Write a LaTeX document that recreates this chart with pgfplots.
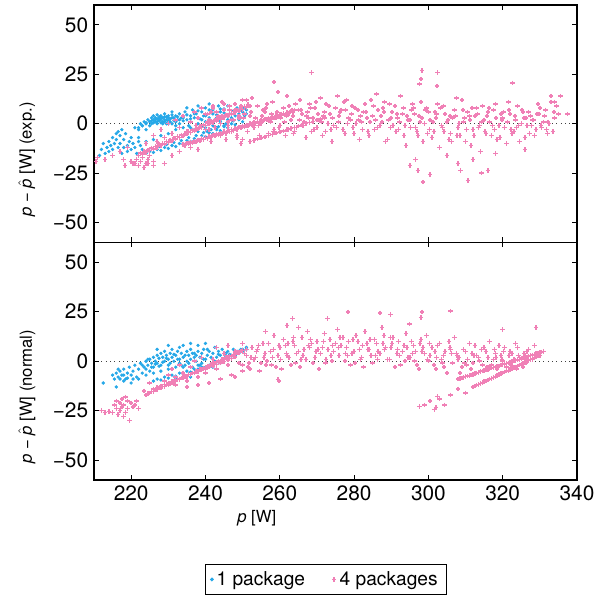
\documentclass[border=0pt]{standalone}
\usepackage{fontspec}
\setmainfont{TeX Gyre Heros}
\usepackage{pgfplots}
\usepackage{pgfplotstable}
\pgfplotsset{compat=1.18}
\definecolor{cblue}{RGB}{38,168,232}
\definecolor{cpink}{RGB}{240,128,182}
\newcommand{\fs}{\fontsize{11.5}{13.5}\selectfont}
\newcommand{\ft}{\fontsize{12.5}{14.5}\selectfont}

% ---------- top panel (exp.) ----------
\pgfplotstableread[row sep=\\]{x y\\
211.5 -16\\ 212 -13\\ 212.5 -10\\ 213 -15\\ 213.5 -12\\ 214 -9\\ 214 -14\\ 214.5 -11\\ 215 -7\\ 215 -13\\ 215.5 -10\\ 216 -5\\ 216 -8\\ 216.5 -12\\ 216.5 -4\\ 217 -6\\ 217 -10\\ 217.5 -3\\ 217.5 -15\\ 218 -8\\ 218 -12\\ 218.5 -5\\ 219 -11\\ 219 -14\\ 219.5 -9\\ 220 -7\\ 220 -13\\ 220.5 -10\\ 221 -12\\ 221.5 -15\\ 222 -9\\ 222.5 -11\\ 223 -13\\ 221 -2\\ 222 -3\\ 223 -1\\ 224 0\\
222 -2\\ 222.5 0\\ 223 -1\\ 223.5 1\\ 224 -3\\ 224 0.5\\ 224.5 2\\ 225 1\\ 225 -1\\ 225.5 3\\ 225.5 0\\ 226 2\\ 226 4\\ 226.5 1\\ 226.5 3\\ 227 0\\ 227 2.5\\ 227 4.5\\ 227.5 1.5\\ 227.5 3.5\\ 228 0.5\\ 228 2\\ 228 4\\ 228.5 3\\ 228.5 1\\ 229 2\\ 229 5\\ 229.5 0\\ 229.5 3.5\\ 230 1.5\\ 230 4\\ 230.5 2.5\\ 231 0\\ 231 3\\ 231 6\\ 231.5 1.5\\ 232 4\\ 232 -1\\ 232.5 2\\ 233 5\\ 233 0\\ 233.5 3\\ 234 -2\\ 234 1.5\\ 234.5 6\\ 235 2\\ 235 8\\ 235.5 -1\\ 236 4\\ 236 1\\ 236.5 7\\ 237 3\\ 237 -3\\ 237.5 5\\ 238 0\\ 238 9\\ 238.5 2.5\\ 239 6\\ 239 -1\\ 239.5 4\\ 240 1\\ 240 8\\ 240.5 -4\\ 241 3\\ 241 10\\ 241.5 5.5\\ 242 0\\ 242 7\\ 242.5 2\\ 243 4.5\\ 243 -2\\ 243.5 9\\ 244 1\\ 244 6\\ 244.5 3\\ 245 7.5\\ 245 -1\\ 245.5 4\\ 246 2\\ 246 9\\ 246.5 5\\ 247 3\\ 247.5 6.5\\ 248 4\\ 248.5 8\\ 249 5\\ 249.5 7\\ 250 6\\ 250.5 8\\ 251 7\\
225.5 1.5\\ 226 0.5\\ 226.5 2\\ 227 1\\ 227.5 2.5\\ 228 3\\ 228.5 0\\ 229 1\\ 229 3.5\\ 229.5 2\\ 230 0\\ 230 3\\ 230.5 1\\ 231 4.5\\ 231.5 3\\ 232 1\\ 232.5 3.5\\ 233 2\\ 234 3\\ 235 4.5\\ 236 2.5\\ 237 5\\ 238 6.5\\ 239 2\\ 240 4\\ 241 7\\ 242 5\\ 243 3\\ 244 7.5\\ 245 5.5\\
224 -15\\ 225 -14\\ 225.5 -12.5\\ 226 -14.5\\ 227 -13\\ 227.5 -11.5\\ 228 -13.5\\ 229 -12\\ 229.5 -10.5\\ 230 -12.5\\ 231 -11\\ 231.5 -9.5\\ 232 -11.5\\ 233 -10\\ 233.5 -8.5\\ 234 -10\\ 235 -8.5\\ 235.5 -7\\ 236 -9\\ 237 -7.5\\ 237.5 -6\\ 238 -8\\ 239 -6\\ 239.5 -4.5\\ 240 -6.5\\ 241 -4.5\\ 241.5 -3\\ 242 -5\\ 243 -3\\ 243.5 -1.5\\ 244 -3.5\\ 245 -1.5\\ 245.5 0\\ 246 -2\\ 247 0\\ 247.5 1.5\\ 248 -0.5\\ 249 2\\ 249.5 3\\ 250 1\\ 250.5 4\\ 251 5\\
230 -5\\ 232 -3\\ 234 -6\\ 236 -2\\ 238 -4\\ 240 -2\\ 242 -1\\ 244 2\\ 226 -8\\ 228 -6\\ 222 -7\\ 224 -9\\
}\tb

\pgfplotstableread[row sep=\\]{x y\\
210.5 -19\\ 211 -17\\ 213 -18\\ 215 -16\\ 217 -14\\ 218 -18\\ 218.4 -21\\ 219 -12\\ 220 -19\\ 220.5 -20\\ 221 -20\\ 221.5 -18\\ 222 -21\\ 222.5 -19\\ 223 -17\\ 223.5 -22\\ 224 -20\\ 224.5 -18\\ 225 -16\\ 226 -21\\ 229 -20\\ 224.6 -20\\
222 -16\\ 223 -15.3\\ 224 -14.5\\ 225 -13.6\\ 226 -12.8\\ 227 -11.9\\ 228 -11.1\\ 229 -10.3\\ 230 -9.4\\ 231 -8.6\\ 232 -7.8\\ 233 -6.9\\ 234 -6.1\\ 235 -5.2\\ 236 -4.4\\ 237 -3.6\\ 238 -2.7\\ 239 -1.9\\ 240 -1.0\\ 241 -0.2\\ 242 0.6\\ 243 1.5\\ 244 2.3\\ 245 3.2\\ 246 4.0\\ 247 4.8\\ 248 5.7\\ 249 6.5\\ 250 7.3\\ 251 8.2\\ 252 9\\
222.5 -14.8\\ 223.5 -13.9\\ 224.5 -13.3\\ 225.5 -12.2\\ 226.5 -11.6\\ 227.5 -10.6\\ 228.5 -9.9\\ 229.5 -8.9\\ 230.5 -8.2\\ 231.5 -7.3\\ 232.5 -6.5\\ 233.5 -5.6\\ 234.5 -4.9\\ 235.5 -3.9\\ 236.5 -3.2\\ 237.5 -2.3\\ 238.5 -1.5\\ 239.5 -0.6\\ 240.5 0.2\\ 241.5 1.1\\ 242.5 1.9\\ 243.5 2.8\\ 244.5 3.6\\ 245.5 4.5\\ 246.5 5.3\\ 247.5 6.2\\ 248.5 7.0\\ 249.5 7.9\\ 250.5 8.6\\ 251.5 9.6\\
234 -10.4\\ 235 -9.8\\ 236 -9.3\\ 237 -8.7\\ 238 -8.1\\ 239 -7.5\\ 240 -6.9\\ 241 -6.4\\ 242 -5.8\\ 243 -5.2\\ 244 -4.6\\ 245 -4.0\\ 246 -3.5\\ 247 -2.9\\ 248 -2.3\\ 249 -1.7\\ 250 -1.1\\ 251 -0.6\\ 252 0\\ 253 0.6\\ 254 1.2\\ 255 1.8\\ 256 2.4\\ 257 2.9\\ 258 3.5\\ 259 4.1\\ 260 4.7\\ 261 5.3\\ 262 5.8\\ 263 6.4\\ 264 7.0\\
234.5 -10.9\\ 235.5 -10.3\\ 236.5 -9.8\\ 237.5 -9.2\\ 238.5 -8.6\\ 239.5 -8.0\\ 240.5 -7.5\\ 241.5 -6.9\\ 242.5 -6.3\\ 243.5 -5.7\\ 244.5 -5.1\\ 245.5 -4.6\\ 246.5 -4.0\\ 247.5 -3.4\\ 248.5 -2.8\\ 249.5 -2.2\\ 250.5 -1.7\\ 251.5 -1.1\\ 252.5 -0.5\\ 253.5 0.1\\ 254.5 0.7\\ 255.5 1.3\\ 256.5 1.8\\ 257.5 2.4\\ 258.5 3.0\\ 259.5 3.6\\ 260.5 4.2\\ 261.5 4.7\\ 262.5 5.3\\ 263.5 5.9\\
252 -9\\ 253 -8.4\\ 254 -7.8\\ 255 -7.2\\ 256 -6.6\\ 257 -6\\ 258 -5.4\\ 259 -4.8\\ 260 -4.2\\ 261 -3.6\\ 262 -3\\ 263 -2.4\\ 264 -1.8\\ 265 -1.2\\ 266 -0.6\\ 267 0\\ 268 0.6\\ 269 1.2\\ 270 1.8\\ 271 2.4\\ 272 3\\
224 -10\\ 226 -6\\ 227 -9\\ 228 -3\\ 229 -7\\ 230 0\\ 231 -5\\ 232 2\\ 233 -2\\ 234 4\\ 235 -4\\ 236 1\\ 237 6\\ 237.5 -1\\ 238 3\\ 239 8\\ 240 -3\\ 240.5 5\\ 241 2\\ 242 9\\ 242.5 -2\\ 243 6\\ 244 0\\ 244.5 11\\ 245 7\\ 246 -1\\ 246.5 9\\ 247 2\\ 248 10\\ 248.5 -6\\ 249 4\\ 250 12\\ 249.5 -10\\ 245.5 -8\\ 241.5 -9\\ 238 -13\\ 236 -12\\ 233 -14\\ 231 -16\\ 226 -19\\
240 5\\ 241 -3\\ 242 8\\ 243 2\\ 244 -6\\ 245 10\\ 246 1\\ 247 -4\\ 248 7\\ 249 3\\ 250 -8\\ 251 12\\ 252 4\\ 253 -2\\ 254 9\\ 255 0\\ 256 6\\ 257 -5\\ 258 11\\ 259 3\\ 260 -1\\ 261 8\\ 262 14\\ 263 2\\ 264 -4\\ 265 7\\ 266 5\\ 267 -7\\ 268 10\\ 269 3\\ 270 -2\\ 271 13\\ 272 6\\ 273 0\\ 274 -9\\ 275 8\\ 276 4\\ 277 -3\\ 278 12\\ 279 2\\ 280 -5\\ 281 7\\ 282 1\\ 283 10\\ 284 -6\\ 285 4\\ 286 15\\ 287 -1\\ 288 6\\ 289 -8\\ 290 3\\ 291 9\\ 292 -3\\ 293 5\\ 294 -11\\ 295 2\\ 296 8\\ 297 -4\\ 298 11\\ 299 0\\ 300 6\\ 301 -7\\ 302 3\\ 303 -12\\ 304 9\\ 305 1\\ 306 -5\\ 307 7\\ 308 -2\\ 309 12\\ 310 -9\\ 311 4\\ 312 -3\\ 313 8\\ 314 -14\\ 315 2\\ 316 6\\ 317 -6\\ 318 10\\ 319 -1\\ 320 3\\ 321 -10\\ 322 5\\ 323 -4\\ 324 9\\ 325 0\\ 326 -7\\ 327 6\\ 328 2\\ 329 -3\\ 330 8\\ 331 1\\ 332 -5\\ 333 11\\ 334 3\\ 335 5\\
240.5 1\\ 241.5 6\\ 242.5 -2\\ 243.5 4\\ 244.5 11\\ 245.5 -5\\ 246.5 7\\ 247.5 2\\ 248.5 -7\\ 249.5 9\\ 250.5 5\\ 251.5 -1\\ 252.5 13\\ 253.5 3\\ 254.5 -6\\ 255.5 7\\ 256.5 10\\ 257.5 1\\ 258.5 -3\\ 259.5 16\\ 260.5 5\\ 261.5 -6\\ 262.5 9\\ 263.5 4\\ 264.5 -2\\ 265.5 12\\ 266.5 1\\ 267.5 6\\ 268.5 -4\\ 269.5 8\\ 270.5 2\\ 271.5 -6\\ 272.5 10\\ 273.5 5\\ 274.5 -1\\ 275.5 14\\ 276.5 7\\ 277.5 -5\\ 278.5 3\\ 279.5 9\\ 280.5 0\\ 281.5 -8\\ 282.5 6\\ 283.5 3\\ 284.5 12\\ 285.5 -3\\ 286.5 7\\ 287.5 1\\ 288.5 -9\\ 289.5 10\\ 290.5 -1\\ 291.5 5\\ 292.5 14\\ 293.5 -6\\ 294.5 2\\ 295.5 7\\ 296.5 -2\\ 297.5 4\\ 298.5 -9\\ 299.5 8\\ 300.5 2\\ 301.5 -4\\ 302.5 10\\ 303.5 -1\\ 304.5 5\\ 305.5 -8\\ 306.5 3\\ 307.5 13\\ 308.5 -6\\ 309.5 1\\ 310.5 6\\ 311.5 -11\\ 312.5 4\\ 313.5 -2\\ 314.5 9\\ 315.5 -5\\ 316.5 1\\ 317.5 7\\ 318.5 -8\\ 319.5 5\\ 320.5 -2\\ 321.5 11\\ 322.5 -5\\ 323.5 2\\ 324.5 -9\\ 325.5 6\\ 326.5 -1\\ 327.5 4\\ 328.5 -6\\ 329.5 10\\ 330.5 -2\\ 331.5 7\\ 332.5 0\\ 333.5 -4\\ 334.5 9\\
250.25 3\\ 251.25 -4\\ 252.25 6\\ 253.25 1\\ 254.25 -1\\ 255.25 4\\ 256.25 8\\ 257.25 2\\ 258.25 -4\\ 259.25 6\\ 260.25 3\\ 261.25 1\\ 262.25 -3\\ 263.25 7\\ 264.25 10\\ 265.25 2\\ 266.25 -1\\ 267.25 4\\ 268.25 8\\ 269.25 -3\\ 270.25 5\\ 271.25 1\\ 272.25 -4\\ 273.25 9\\ 274.25 3\\ 275.25 -2\\ 276.25 6\\ 277.25 11\\ 278.25 0\\ 279.25 5\\ 280.25 8\\ 281.25 2\\ 282.25 -3\\ 283.25 6\\ 284.25 1\\ 285.25 9\\ 286.25 -2\\ 287.25 4\\ 288.25 11\\ 289.25 2\\ 290.25 6\\ 291.25 -4\\ 292.25 1\\ 293.25 8\\ 294.25 4\\ 295.25 -2\\ 296.25 5\\ 297.25 -6\\ 298.25 3\\ 299.25 7\\ 300.25 -3\\ 301.25 1\\ 302.25 5\\ 303.25 8\\ 304.25 -4\\ 305.25 2\\ 306.25 -9\\ 307.25 4\\ 308.25 0\\ 309.25 7\\ 310.25 -3\\ 311.25 2\\ 312.25 -6\\ 313.25 5\\ 314.25 1\\ 315.25 -4\\ 316.25 8\\ 317.25 -1\\ 318.25 3\\ 319.25 -7\\ 320.25 6\\ 321.25 1\\ 322.25 -3\\ 323.25 4\\ 324.25 -1\\ 325.25 7\\ 326.25 3\\ 327.25 -5\\ 328.25 2\\ 329.25 5\\ 330.25 -1\\ 331.25 4\\ 332.25 1\\
255.75 2\\ 257.75 5\\ 259.75 -2\\ 261.75 4\\ 263.75 -5\\ 265.75 7\\ 267.75 3\\ 269.75 11\\ 271.75 4\\ 273.75 -3\\ 275.75 1\\ 277.75 7\\ 279.75 -2\\ 281.75 4\\ 283.75 -4\\ 285.75 2\\ 287.75 8\\ 289.75 -2\\ 291.75 3\\ 293.75 -1\\ 295.75 10\\ 297.75 1\\ 299.75 -5\\ 301.75 6\\ 303.75 -2\\ 305.75 4\\ 307.75 -6\\ 309.75 3\\ 311.75 8\\ 313.75 -1\\ 315.75 4\\ 317.75 -3\\ 319.75 2\\ 321.75 7\\ 323.75 -2\\ 325.75 3\\ 327.75 -1\\ 329.75 5\\ 331.75 -3\\ 333.75 6\\
258.4 21\\ 268.6 26\\ 297.2 -23.6\\ 298.5 -29.5\\ 300.5 -25.6\\ 308.6 -23.6\\ 310.7 -28.6\\ 314.3 -25\\ 316 -23.5\\ 298.3 26.8\\ 302.4 25.8\\ 298 22.5\\ 297.6 20\\ 302.3 19\\ 322.7 20.7\\ 296.5 -18\\ 305 -16\\ 312 -18\\ 318 -15\\ 326 -13\\ 295 -21\\ 308 -20\\ 337.5 5\\ 335.5 14\\ 333 14\\ 334 11\\
}\tp

% ---------- bottom panel (normal) ----------
\pgfplotstableread[row sep=\\]{x y\\
212.5 -11\\ 215 -7\\ 215.5 -9\\ 216 -6\\ 216.5 -8\\ 216 -13\\ 217 -5\\ 217.5 -7\\ 218 -4\\ 218.5 -9\\ 219 -6\\ 219.5 -3\\ 220 -7\\ 220.5 -5\\ 221 -2\\ 221.5 -8\\ 222 -4\\ 222.5 -1\\ 223 -6\\ 223.5 -3\\ 224 0\\ 224.5 -2\\ 225 -5\\ 225 1\\ 225.5 -1\\ 226 2\\ 226 -3\\ 226.5 0\\ 227 3\\ 227 -1\\ 227.5 1.5\\ 228 -2\\ 228 4\\ 228.5 2\\ 229 0\\ 229 5\\ 229.5 3\\ 230 1\\ 230 -2\\ 230.5 4\\ 231 2\\ 231 6\\ 231.5 0\\ 232 3\\ 232 -3\\ 232.5 5\\ 233 1\\ 233 -1\\ 233.5 4\\ 234 2\\ 234 8\\ 234.5 -2\\ 235 5\\ 235 0\\ 235.5 3\\ 236 1\\ 236 6\\ 236.5 -3\\ 237 4\\ 237 2\\ 237.5 0\\ 238 5\\ 238 8\\ 238.5 2\\ 239 -1\\ 239 4\\ 239.5 6\\ 240 1\\ 240 9\\ 240.5 3\\ 241 5\\ 241.5 -2\\ 242 4\\ 242.5 7\\ 243 2\\ 243.5 5\\ 244 3\\ 244.5 6\\ 245 1\\ 245.5 4\\ 246 5\\ 247 3\\ 247.5 6\\ 248 4\\ 249 5\\ 250 6\\ 251 7\\
223 -2\\ 224 -4\\ 224.5 1\\ 225.5 -3\\ 226.5 -1.5\\ 227.5 -2.5\\ 228.5 -0.5\\ 229.5 1.5\\ 230.5 -1\\ 231.5 3.5\\ 232.5 1\\ 233.5 -2\\ 234.5 3\\ 235.5 -1\\ 236.5 4\\ 237.5 3\\ 238.5 -2\\ 239.5 1\\ 240.5 6\\ 241.5 2\\ 242.5 0\\ 243.5 3.5\\ 244.5 1\\ 245.5 2.5\\ 246.5 3.5\\ 248.5 5\\ 249.5 6\\ 220.5 -9\\ 219 -8.5\\ 218 -7\\ 217 -9\\ 216.5 -4\\
226 -10\\ 227 -9\\ 228 -9.5\\ 229 -8\\ 230 -8.5\\ 231 -7\\ 232 -7.5\\ 233 -6\\ 234 -6.5\\ 235 -5\\ 236 -5.5\\ 237 -4\\ 238 -4\\ 239 -3\\ 240 -3\\ 241 -2\\ 242 -1.5\\ 243 -0.5\\ 244 0\\ 245 1\\ 246 1.5\\ 247 2.5\\ 248 3\\ 249 4\\ 250 5\\ 251 6\\
218 -10\\ 220 -11\\ 222 -9\\ 224 -7\\ 226 -6\\ 228 -5\\ 230 -4\\ 232 -9\\ 234 -3\\ 236 -8\\ 238 -2\\ 240 -6\\ 242 -3\\ 244 -1\\ 230 8\\ 233 7\\ 236 9\\ 227 6\\
}\bb

\pgfplotstableread[row sep=\\]{x y\\
212 -25\\ 213 -26\\ 214 -25.5\\ 215 -26\\ 215.5 -22\\ 216 -20\\ 216 -24\\ 216.5 -27\\ 217 -21\\ 217 -25\\ 217.5 -19\\ 217.5 -23\\ 218 -28\\ 218 -22\\ 218.5 -26\\ 218.5 -18\\ 219 -20\\ 219 -24\\ 219.5 -30\\ 220 -21\\ 220.5 -23\\ 221 -22\\ 221.5 -20\\ 222 -24\\
224 -17\\ 225 -16.1\\ 226 -15.3\\ 227 -14.4\\ 228 -13.6\\ 229 -12.7\\ 230 -11.9\\ 231 -11\\ 232 -10.1\\ 233 -9.3\\ 234 -8.4\\ 235 -7.6\\ 236 -6.7\\ 237 -5.9\\ 238 -5\\ 239 -4.1\\ 240 -3.3\\ 241 -2.4\\ 242 -1.6\\ 243 -0.7\\ 244 0.2\\ 245 1\\ 246 1.9\\ 247 2.7\\ 248 3.6\\ 249 4.4\\ 250 5.3\\ 251 6\\
224.5 -16.2\\ 225.5 -15.3\\ 226.5 -14.5\\ 227.5 -13.6\\ 228.5 -12.8\\ 229.5 -11.9\\ 230.5 -11.1\\ 231.5 -10.2\\ 232.5 -9.3\\ 233.5 -8.5\\ 234.5 -7.6\\ 235.5 -6.8\\ 236.5 -5.9\\ 237.5 -5.1\\ 238.5 -4.2\\ 239.5 -3.3\\ 240.5 -2.5\\ 241.5 -1.6\\ 242.5 -0.8\\ 243.5 0.1\\ 244.5 1\\ 245.5 1.8\\ 246.5 2.7\\ 247.5 3.5\\ 248.5 4.4\\ 249.5 5.2\\
226 -14\\ 227 -13.3\\ 228 -12.5\\ 229 -11.8\\ 230 -11.1\\ 231 -10.3\\ 232 -9.6\\ 233 -8.9\\ 234 -8.1\\ 235 -7.4\\ 236 -6.7\\ 237 -5.9\\ 238 -5.2\\ 239 -4.5\\ 240 -3.8\\ 241 -3\\ 242 -2.3\\ 243 -1.6\\ 244 -0.8\\ 245 -0.1\\ 246 0.6\\ 247 1.4\\ 248 2.1\\
223.5 -15\\ 225 -11\\ 230 -7\\ 231 -4\\ 232 -12\\ 233 -2\\ 234 -6\\ 235 -10\\ 236 -3\\ 237 0\\ 238 -8\\ 239 2\\ 240 -6\\ 241 -11\\ 242 1\\ 243 -4\\ 244 -9\\ 245 4\\ 246 -2\\ 247 -7\\ 248 5\\ 249 -1\\ 250 -5\\ 243 7\\ 246 8\\ 248 -8\\ 250 9\\ 235 -13\\ 229 -10\\ 238 -12\\ 232 -8\\
250 -2\\ 251 3\\ 252 -4\\ 253 1\\ 254 6\\ 255 -1\\ 256 4\\ 257 9\\ 258 2\\ 259 -3\\ 260 7\\ 261 11\\ 262 3\\ 263 -2\\ 264 8\\ 265 5\\ 266 12\\ 267 1\\ 268 7\\ 269 -1\\ 270 10\\ 271 4\\ 272 14\\ 273 6\\ 274 0\\ 275 9\\ 276 3\\ 277 12\\ 278 7\\ 279 -2\\ 280 5\\ 281 10\\ 282 2\\ 283 15\\ 284 6\\ 285 -1\\ 286 9\\ 287 4\\ 288 13\\ 289 1\\ 290 7\\ 291 -3\\ 292 10\\ 293 5\\ 294 14\\ 295 2\\ 296 8\\ 297 -2\\ 298 11\\ 299 4\\ 300 0\\ 301 7\\ 302 -4\\ 303 9\\ 304 3\\ 305 -6\\ 306 6\\ 307 12\\ 308 1\\ 309 -3\\ 310 5\\ 311 9\\ 312 -1\\ 313 3\\ 314 -5\\ 315 7\\ 316 2\\ 317 -2\\ 318 4\\ 319 8\\ 320 0\\ 321 -3\\ 322 5\\ 323 1\\ 324 7\\ 325 -2\\ 326 3\\ 327 6\\ 328 1\\ 329 4\\ 330 3\\
250.5 4\\ 251.5 -3\\ 252.5 7\\ 253.5 2\\ 254.5 -5\\ 255.5 9\\ 256.5 0\\ 257.5 5\\ 258.5 13\\ 259.5 3\\ 260.5 -4\\ 261.5 8\\ 262.5 2\\ 263.5 10\\ 264.5 4\\ 265.5 -3\\ 266.5 6\\ 267.5 15\\ 268.5 9\\ 269.5 2\\ 270.5 -4\\ 271.5 7\\ 272.5 1\\ 273.5 11\\ 274.5 5\\ 275.5 16\\ 276.5 8\\ 277.5 0\\ 278.5 10\\ 279.5 4\\ 280.5 13\\ 281.5 6\\ 282.5 -3\\ 283.5 9\\ 284.5 3\\ 285.5 11\\ 286.5 5\\ 287.5 17\\ 288.5 7\\ 289.5 1\\ 290.5 12\\ 291.5 4\\ 292.5 -2\\ 293.5 8\\ 294.5 2\\ 295.5 10\\ 296.5 5\\ 297.5 -4\\ 298.5 7\\ 299.5 13\\ 300.5 3\\ 301.5 -2\\ 302.5 8\\ 303.5 1\\ 304.5 5\\ 305.5 10\\ 306.5 -1\\ 307.5 4\\ 308.5 -6\\ 309.5 6\\ 310.5 1\\ 311.5 -4\\ 312.5 8\\ 313.5 2\\ 314.5 -2\\ 315.5 5\\ 316.5 10\\ 317.5 1\\ 318.5 -4\\ 319.5 3\\ 320.5 7\\ 321.5 -1\\ 322.5 4\\ 323.5 9\\ 324.5 2\\ 325.5 -3\\ 326.5 5\\ 327.5 1\\ 328.5 8\\ 329.5 3\\
252.25 2\\ 254.25 8\\ 256.25 -2\\ 258.25 6\\ 260.25 1\\ 262.25 9\\ 264.25 -1\\ 266.25 3\\ 268.25 11\\ 270.25 6\\ 272.25 -1\\ 274.25 8\\ 276.25 12\\ 278.25 3\\ 280.25 -1\\ 282.25 8\\ 284.25 11\\ 286.25 1\\ 288.25 6\\ 290.25 9\\ 292.25 3\\ 294.25 7\\ 296.25 0\\ 298.25 5\\ 300.25 9\\ 302.25 2\\ 304.25 -3\\ 306.25 4\\ 308.25 2\\ 310.25 -2\\ 312.25 3\\ 314.25 6\\ 316.25 -3\\ 318.25 2\\ 320.25 5\\ 322.25 -2\\ 324.25 3\\ 326.25 -1\\
251.75 -1\\ 253.75 5\\ 255.75 2\\ 257.75 -2\\ 259.75 8\\ 261.75 4\\ 263.75 12\\ 265.75 1\\ 267.75 8\\ 269.75 5\\ 271.75 10\\ 273.75 3\\ 275.75 7\\ 277.75 4\\ 279.75 11\\ 281.75 1\\ 283.75 6\\ 285.75 3\\ 287.75 9\\ 289.75 12\\ 291.75 6\\ 293.75 0\\ 295.75 4\\ 297.75 9\\ 299.75 1\\ 301.75 5\\ 303.75 -1\\ 305.75 7\\ 307.75 3\\ 309.75 -1\\ 311.75 4\\ 313.75 0\\ 315.75 -3\\ 317.75 6\\ 319.75 1\\ 321.75 3\\ 323.75 -4\\ 325.75 4\\
308 -9\\ 308.5 -8.7\\ 309 -8.4\\ 309.5 -8.1\\ 310 -7.8\\ 310.5 -7.5\\ 311 -7.2\\ 311.5 -6.9\\ 312 -6.6\\ 312.5 -6.3\\ 313 -5.9\\ 313.5 -5.6\\ 314 -5.3\\ 314.5 -5\\ 315 -4.7\\ 315.5 -4.4\\ 316 -4.1\\ 316.5 -3.8\\ 317 -3.5\\ 317.5 -3.2\\ 318 -2.9\\ 318.5 -2.6\\ 319 -2.3\\ 319.5 -2\\ 320 -1.7\\ 320.5 -1.4\\ 321 -1.1\\ 321.5 -0.8\\ 322 -0.5\\ 322.5 -0.2\\ 323 0.1\\ 323.5 0.4\\ 324 0.7\\ 324.5 1\\ 325 1.3\\ 325.5 1.6\\ 326 1.9\\ 326.5 2.2\\ 327 2.6\\ 327.5 2.9\\ 328 3.2\\ 328.5 3.5\\ 329 3.8\\ 329.5 4.1\\ 330 4.4\\ 330.5 4.7\\ 331 5\\
312 -13\\ 312.5 -12.6\\ 313 -12.1\\ 313.5 -11.7\\ 314 -11.2\\ 314.5 -10.8\\ 315 -10.3\\ 315.5 -9.9\\ 316 -9.4\\ 316.5 -9\\ 317 -8.6\\ 317.5 -8.1\\ 318 -7.7\\ 318.5 -7.2\\ 319 -6.8\\ 319.5 -6.3\\ 320 -5.9\\ 320.5 -5.4\\ 321 -5\\ 321.5 -4.6\\ 322 -4.1\\ 322.5 -3.7\\ 323 -3.2\\ 323.5 -2.8\\ 324 -2.3\\ 324.5 -1.9\\ 325 -1.4\\ 325.5 -1\\ 326 -0.6\\ 326.5 -0.1\\ 327 0.3\\ 327.5 0.8\\ 328 1.2\\ 328.5 1.7\\ 329 2.1\\ 329.5 2.6\\ 330 3\\
297.6 -22.8\\ 298.9 -22\\ 300.5 -20\\ 301.6 -24.5\\ 302 -23.5\\ 302.4 -17.8\\ 304.4 -22\\ 306 -17\\ 303 -19\\ 308 -14\\ 310 -16\\ 259.5 -9.3\\ 259.8 -10\\
298.3 24.9\\ 298 22\\ 306 25.3\\ 294.9 18.7\\ 278.3 24.9\\ 287 24.5\\ 272.9 21.7\\ 289.8 23.6\\ 263.4 21.5\\ 256.2 15\\ 320 16\\ 329 17\\ 262 18\\ 265 17\\
}\bp

\begin{document}
\begin{tikzpicture}
\pgfplotsset{
  myax/.style={
    width=289.8pt, height=142.5pt, scale only axis,
    xmin=210, xmax=340, ymin=-60, ymax=60,
    ytick={-50,-25,0,25,50}, yticklabels={−50,−25,0,25,50},
    xtick={220,240,260,280,300,320,340},
    tick align=inside, major tick length=3pt,
    axis line style={line width=0.8pt},
    every tick/.style={black, line width=0.6pt},
    ticklabel style={font=\ft},
    label style={font=\ft},
    every axis y label/.style={at={(axis description cs:-0.139,0.35)}, rotate=90, anchor=center},
    every axis x label/.style={at={(axis description cs:0.337,-0.16)}, anchor=center},
    clip marker paths=true,
  },
  bl/.style={only marks, mark=*, mark size=0.8pt, cblue, mark options={draw=none, fill=cblue}},
  pk/.style={only marks, mark=+, mark size=1.35pt, cpink, mark options={line width=0.9pt}},
}
\begin{axis}[myax, name=top, xticklabels={},
  ylabel={\textit{p} − $\hat{\mbox{\textit{p}}}$ [W] (exp.)}]
\addplot[dotted, black!75, line width=0.6pt, forget plot] coordinates {(212,0) (339,0)};
\addplot[bl] table[x=x,y=y] {\tb};
\addplot[pk] table[x=x,y=y] {\tp};
\end{axis}
\begin{axis}[myax, name=bot, at={(top.south west)}, anchor=north west,
  xticklabels={220,240,260,280,300,320,340},
  xlabel={\textit{p} [W]},
  ylabel={\textit{p} − $\hat{\mbox{\textit{p}}}$ [W] (normal)},
  legend columns=2,
  legend style={at={(0.48,-0.354)}, anchor=north, draw=black, line width=0.6pt,
    font=\fs, inner xsep=3pt, inner ysep=2pt,
    /tikz/every even column/.append style={column sep=14pt}},
  legend image code/.code={\draw[#1] plot coordinates {(0pt,0pt)};},
  legend cell align=left]
\addplot[dotted, black!75, line width=0.6pt, forget plot] coordinates {(212,0) (339,0)};
\addplot[bl] table[x=x,y=y] {\bb};
\addlegendentry{1 package}
\addplot[pk] table[x=x,y=y] {\bp};
\addlegendentry{4 packages}
\end{axis}
\path (top.north west) ++(-56.4pt,3pt);
\path (bot.south east) ++(14.4pt,-69.6pt);
\end{tikzpicture}
\end{document}
